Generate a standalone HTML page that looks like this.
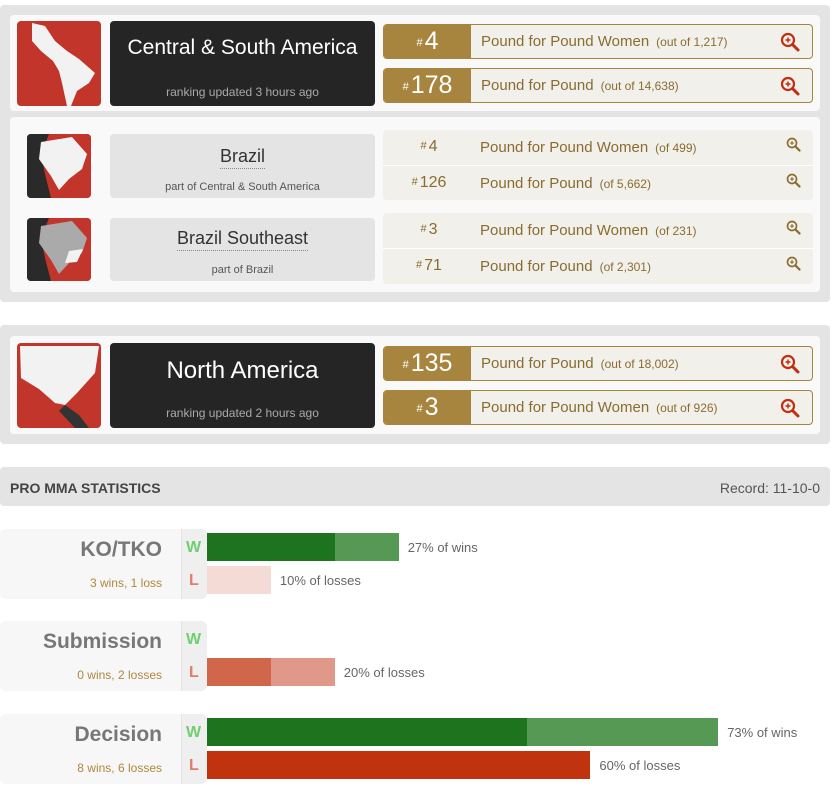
<!DOCTYPE html>
<html><head><meta charset="utf-8"><style>
*{box-sizing:border-box;margin:0;padding:0}
body{width:837px;height:789px;background:#fff;font-family:"Liberation Sans",sans-serif;position:relative;overflow:hidden}
.a{position:absolute}
.panel{background:#e4e4e4;border-radius:4px}
.inner{background:#f9f9f9;border-radius:4px}
.map{background:#c1352b;border-radius:4px;overflow:hidden}
.dark{background:#252525;border-radius:4px;color:#fff;text-align:center}
.dark .t{position:absolute;left:0;right:0;font-size:21px}
.dark .s{position:absolute;left:0;right:0;font-size:12px;color:#aaa}
.rank{border:1px solid #a8853f;border-radius:4px;background:#f2f0eb;overflow:hidden}
.rank .n{position:absolute;left:0;top:0;bottom:0;width:87px;background:#a8853f;color:#fff;text-align:center;font-size:25px;line-height:32px}
.rank .n small,.srank .n small{font-size:11px;vertical-align:top;position:relative;top:2px;margin-right:2px}
.lab{position:absolute;left:97px;font-size:15px;color:#8a6c30}
.lab small{font-size:12px;margin-left:7px}
.mag{position:absolute;right:12px;top:7px}
.gbox{background:#e4e4e4;border-radius:4px;text-align:center;color:#333}
.srank{background:#f2f0eb;border-radius:4px}
.srank .n{position:absolute;left:0;width:92px;text-align:center;color:#8a6c30;font-size:16px}
.sep{position:absolute;left:0;right:0;height:1px;background:#fff}
.mag2{position:absolute;right:12px}
.stat{background:#f7f7f7;border-radius:6px;overflow:hidden}
.wl{background:#efefef;border-left:1px solid #e4e4e4}
.cat{position:absolute;right:45px;font-size:21px;font-weight:bold;color:#777;text-align:right}
.rec{position:absolute;right:45px;font-size:12px;color:#b0873e}
.W{position:absolute;left:186px;font-size:16px;font-weight:bold;color:#6fcf6f}
.L{position:absolute;left:189px;font-size:16px;font-weight:bold;color:#e07e68}
.pct{position:absolute;font-size:13px;color:#666}
</style></head><body>
<svg width="0" height="0" style="position:absolute"><defs>
<symbol id="mg" viewBox="0 0 20 20"><circle cx="8" cy="8" r="6" fill="none" stroke="currentColor" stroke-width="2.2"/><path d="M12.5 12.5 L18 18" stroke="currentColor" stroke-width="3" stroke-linecap="round"/><path d="M8 5.5 V10.5 M5.5 8 H10.5" stroke="currentColor" stroke-width="1.5"/></symbol>
</defs></svg>

<div class="a panel" style="left:0;top:5px;width:830px;height:297px"></div>
<div class="a inner" style="left:10px;top:15px;width:810px;height:96px"></div>
<div class="a map" style="left:17px;top:21px;width:84px;height:85px">
<svg width="84" height="85"><path d="M15 2 L28 5 L38 20 L50 30 L62 38 L78 52 L72 62 L60 70 L54 85 L50 85 L45 62 L42 50 L36 40 L24 30 L15 20 Z" fill="#f2f2f2"/></svg></div>
<div class="a dark" style="left:110px;top:21px;width:265px;height:85px">
<div class="t" style="top:15px">Central &amp; South America</div><div class="s" style="top:64px">ranking updated 3 hours ago</div></div>
<div class="a rank" style="left:383px;top:24px;width:430px;height:35px"><div class="n"><small>#</small>4</div><div class="lab" style="top:8px">Pound for Pound Women<small>(out of 1,217)</small></div><svg class="mag" width="20" height="20" style="color:#c12e10"><use href="#mg"/></svg></div>
<div class="a rank" style="left:383px;top:68px;width:430px;height:35px"><div class="n"><small>#</small>178</div><div class="lab" style="top:8px">Pound for Pound<small>(out of 14,638)</small></div><svg class="mag" width="20" height="20" style="color:#c12e10"><use href="#mg"/></svg></div>

<div class="a inner" style="left:10px;top:117px;width:810px;height:175px"></div>
<div class="a map" style="left:27px;top:134px;width:64px;height:64px"><svg width="64" height="64"><rect width="64" height="64" fill="#c1352b"/><path d="M0 0 H22 L14 20 L18 40 L24 64 H0Z" fill="#2a2a2a"/><path d="M14 8 L45 3 L60 20 L55 35 L42 45 L32 56 L24 42 L12 25 Z" fill="#f2f2f2"/></svg></div>
<div class="a gbox" style="left:110px;top:134px;width:265px;height:64px"><div style="position:absolute;left:0;right:0;top:12px;font-size:18px"><span style="border-bottom:1px dotted #888;padding-bottom:2px">Brazil</span></div><div style="position:absolute;left:0;right:0;top:47px;font-size:11px;color:#555">part of Central &amp; South America</div></div>
<div class="a srank" style="left:383px;top:130px;width:430px;height:70px"><div class="sep" style="top:35px"></div>
<div class="n" style="top:8px"><small>#</small>4</div><div class="lab" style="top:9px">Pound for Pound Women<small>(of 499)</small></div><svg class="mag2" width="15" height="15" style="top:7px;color:#8a6c30"><use href="#mg"/></svg>
<div class="n" style="top:44px"><small>#</small>126</div><div class="lab" style="top:45px">Pound for Pound<small>(of 5,662)</small></div><svg class="mag2" width="15" height="15" style="top:43px;color:#8a6c30"><use href="#mg"/></svg></div>

<div class="a map" style="left:27px;top:218px;width:64px;height:63px"><svg width="64" height="63"><rect width="64" height="63" fill="#c1352b"/><path d="M0 0 H22 L14 20 L18 40 L24 63 H0Z" fill="#2a2a2a"/><path d="M14 8 L45 3 L60 20 L55 35 L42 45 L32 56 L24 42 L12 25 Z" fill="#aaa"/><path d="M42 33 L56 31 L50 44 L38 45Z" fill="#f2f2f2"/></svg></div>
<div class="a gbox" style="left:110px;top:218px;width:265px;height:63px"><div style="position:absolute;left:0;right:0;top:10px;font-size:18px"><span style="border-bottom:1px dotted #888;padding-bottom:2px">Brazil Southeast</span></div><div style="position:absolute;left:0;right:0;top:46px;font-size:11px;color:#555">part of Brazil</div></div>
<div class="a srank" style="left:383px;top:213px;width:430px;height:71px"><div class="sep" style="top:35px"></div>
<div class="n" style="top:8px"><small>#</small>3</div><div class="lab" style="top:9px">Pound for Pound Women<small>(of 231)</small></div><svg class="mag2" width="15" height="15" style="top:7px;color:#8a6c30"><use href="#mg"/></svg>
<div class="n" style="top:44px"><small>#</small>71</div><div class="lab" style="top:45px">Pound for Pound<small>(of 2,301)</small></div><svg class="mag2" width="15" height="15" style="top:43px;color:#8a6c30"><use href="#mg"/></svg></div>

<div class="a panel" style="left:0;top:325px;width:830px;height:119px"></div>
<div class="a inner" style="left:10px;top:336px;width:810px;height:98px"></div>
<div class="a map" style="left:17px;top:343px;width:84px;height:85px"><svg width="84" height="85"><path d="M3 3 L82 3 L78 30 L60 50 L48 62 L38 60 L22 46 L4 35 Z" fill="#f2f2f2"/><path d="M48 62 L62 72 L72 85 L58 85 L42 68Z" fill="#333"/></svg></div>
<div class="a dark" style="left:110px;top:343px;width:265px;height:85px"><div class="t" style="top:14px;font-size:24px">North America</div><div class="s" style="top:63px">ranking updated 2 hours ago</div></div>
<div class="a rank" style="left:383px;top:346px;width:430px;height:35px"><div class="n"><small>#</small>135</div><div class="lab" style="top:8px">Pound for Pound<small>(out of 18,002)</small></div><svg class="mag" width="20" height="20" style="color:#c12e10"><use href="#mg"/></svg></div>
<div class="a rank" style="left:383px;top:390px;width:430px;height:35px"><div class="n"><small>#</small>3</div><div class="lab" style="top:8px">Pound for Pound Women<small>(out of 926)</small></div><svg class="mag" width="20" height="20" style="color:#c12e10"><use href="#mg"/></svg></div>

<div class="a panel" style="left:0;top:467px;width:830px;height:39px"><div class="a" style="left:10px;top:13px;font-size:14px;font-weight:bold;color:#444">PRO MMA STATISTICS</div><div class="a" style="right:10px;top:13px;font-size:14px;color:#555">Record: 11-10-0</div></div>

<div id="stats"></div>
<script>
const categories=["KO/TKO","Submission","Decision"];
const wins=[3,0,8];
const losses=[1,2,6];
const winsDark=[2,0,5];
const lossesDark=[0,1,6];
const winPct=["27%","0%","73%"];
const lossPct=["10%","20%","60%"];
const records=["3 wins, 1 loss","0 wins, 2 losses","8 wins, 6 losses"];
const tops=[529,621,714];
const lossColors=[["#c1330f","#f4dbd5"],["#d0664a","#e09888"],["#c1330f","#e09888"]];
const X0=207,perFight=63.9;
function xs(n){return X0+n*perFight;}
const root=document.getElementById('stats');
function box(l,t,w,h,c,name){const d=document.createElement('div');d.className='a';d.style.cssText=`left:${l}px;top:${t}px;width:${w}px;height:${h}px;background:${c}`;


root.appendChild(d);return d;}
categories.forEach((c,i)=>{
 const t=tops[i];
 const s=document.createElement('div');s.className='a stat';s.style.cssText=`left:0;top:${t}px;width:207px;height:70px`;
 
 
 s.innerHTML=`<div class="a wl" style="left:181px;top:0;width:26px;height:70px"></div><div class="cat" style="top:9px">${c}</div><div class="rec" style="top:47px">${records[i]}</div><div class="W" style="top:10px">W</div><div class="L" style="top:43px">L</div>`;
 root.appendChild(s);
 const wy=t+4,ly=t+37;
 if(wins[i]>0){
  box(X0,wy,xs(winsDark[i])-X0,28,'#1e741e','win-bar-dark');
  box(xs(winsDark[i]),wy,xs(wins[i])-xs(winsDark[i]),28,'#559955','win-bar-light');
  const p=document.createElement('div');p.className='pct';p.style.cssText=`left:${xs(wins[i])+9}px;top:${wy+7}px`;p.textContent=winPct[i]+' of wins';
  
  
  root.appendChild(p);
 }
 if(losses[i]>0){
  box(X0,ly,xs(lossesDark[i])-X0,28,lossColors[i][0],'loss-bar-dark');
  box(xs(lossesDark[i]),ly,xs(losses[i])-xs(lossesDark[i]),28,lossColors[i][1],'loss-bar-light');
  const p=document.createElement('div');p.className='pct';p.style.cssText=`left:${xs(losses[i])+9}px;top:${ly+7}px`;p.textContent=lossPct[i]+' of losses';
  
  
  root.appendChild(p);
 }
});
</script>
</body></html>
